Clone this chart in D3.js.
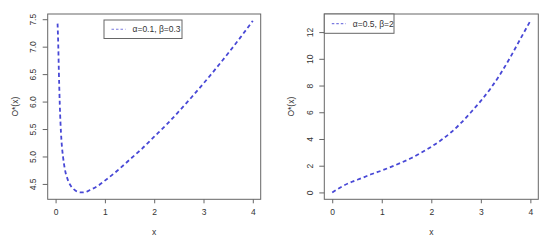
<!DOCTYPE html>
<html><head><meta charset="utf-8">
<script src="https://cdn.jsdelivr.net/npm/d3@7"></script>
<style>
html,body{margin:0;padding:0;background:#fff;}
svg text{font-family:"Liberation Sans",Arial,sans-serif;fill:#333;}
</style></head>
<body><svg id="c" width="550" height="244"></svg>
<script>
// Left panel: alpha=0.1, beta=0.3
const leftX = [0.04,0.055,0.065,0.075,0.085,0.1,0.12,0.15,0.19,0.25,0.32,0.4,0.5,0.6,0.7,0.85,1.0,1.25,1.5,1.75,2.0,2.25,2.5,2.75,3.0,3.25,3.5,3.75,4.0];
const leftY = [7.42,7.0,6.6,6.25,5.95,5.6,5.28,5.0,4.76,4.57,4.45,4.38,4.345,4.35,4.39,4.46,4.56,4.74,4.94,5.14,5.36,5.58,5.82,6.07,6.33,6.60,6.88,7.17,7.47];
// Right panel: alpha=0.5, beta=2
const rightX = [0,0.2,0.4,0.6,0.8,1.0,1.2,1.4,1.6,1.8,2.0,2.2,2.4,2.6,2.8,3.0,3.2,3.4,3.6,3.8,4.0];
const rightY = [0,0.45,0.8,1.08,1.38,1.64,1.93,2.24,2.58,2.98,3.42,3.92,4.5,5.2,6.0,6.85,7.8,8.9,10.15,11.5,12.84];
const xTicks = [0,1,2,3,4];
const leftYTicks = [4.5,5.0,5.5,6.0,6.5,7.0,7.5];
const rightYTicks = [0,2,4,6,8,10,12];
const leftLabel = "α=0.1, β=0.3";
const rightLabel = "α=0.5, β=2";
const xlim = [0,4];

const svg = d3.select("#c");
function ext(lo,hi){const r=hi-lo;return [lo-0.04*r,hi+0.04*r];}

function panel(box, xs, ys, yTicks, yFmt, legend){
  const g = svg.append("g");
  const x = d3.scaleLinear().domain(ext(xlim[0],xlim[1])).range([box.l,box.r]);
  const y = d3.scaleLinear().domain(ext(d3.min(ys),d3.max(ys))).range([box.b,box.t]);
  // curve
  const pts = xs.map((v,i)=>[v,ys[i]]);
  g.append("path").datum(pts)
    .attr("d", d3.line().x(d=>x(d[0])).y(d=>y(d[1])).curve(d3.curveMonotoneX))
    .attr("fill","none").attr("stroke","#4848d6").attr("stroke-width",1.8)
    .attr("stroke-dasharray","4,3");
  // frame
  g.append("rect").attr("x",box.l).attr("y",box.t).attr("width",box.r-box.l).attr("height",box.b-box.t)
    .attr("fill","none").attr("stroke","#666").attr("stroke-width",1);
  // x axis
  const xa = g.append("g").attr("transform",`translate(0,${box.b})`)
    .call(d3.axisBottom(x).tickValues(xTicks).tickSize(4).tickPadding(6).tickFormat(d3.format("d")));
  xa.select(".domain").remove();
  xa.selectAll("line").attr("stroke","#666");
  xa.selectAll("text").attr("font-size","8.5px").attr("fill","#333");
  // y axis
  const ya = g.append("g").attr("transform",`translate(${box.l},0)`)
    .call(d3.axisLeft(y).tickValues(yTicks).tickSize(5).tickFormat(yFmt));
  ya.select(".domain").remove();
  ya.selectAll("line").attr("stroke","#666");
  ya.selectAll("text").attr("font-size","8.5px").attr("fill","#333")
    .attr("text-anchor","middle").attr("dy",null).attr("x",0).attr("y",0)
    .attr("transform","translate(-11.5,0) rotate(-90)");
  // axis titles
  g.append("text").attr("x",(box.l+box.r)/2).attr("y",235).attr("text-anchor","middle")
    .attr("font-size","8.5px").text("x");
  g.append("text").attr("transform",`translate(${box.l-30},${(box.t+box.b)/2}) rotate(-90)`)
    .attr("text-anchor","middle").attr("font-size","8.5px").text("O*(x)");
  // legend
  const lg = g.append("g");
  lg.append("rect").attr("x",legend.x).attr("y",legend.y).attr("width",legend.w).attr("height",legend.h)
    .attr("fill","#fff").attr("stroke","#666").attr("stroke-width",1);
  const cy = legend.y+legend.h/2;
  lg.append("line").attr("x1",legend.x+7.5).attr("x2",legend.x+21.5).attr("y1",cy).attr("y2",cy)
    .attr("stroke","#7a7ae0").attr("stroke-width",1.2).attr("stroke-dasharray","2.5,2");
  lg.append("text").attr("x",legend.x+28.5).attr("y",cy+3).attr("font-size","8.5px").text(legend.label);
}

panel({l:47.7,r:260.7,t:14,b:199.3}, leftX, leftY, leftYTicks, d3.format(".1f"),
  {x:104,y:20,w:78,h:18.5,label:leftLabel});
panel({l:324.3,r:538.3,t:14,b:199.3}, rightX, rightY, rightYTicks, d3.format("d"),
  {x:324.3,y:14,w:69.7,h:19.3,label:rightLabel});
</script></body></html>
